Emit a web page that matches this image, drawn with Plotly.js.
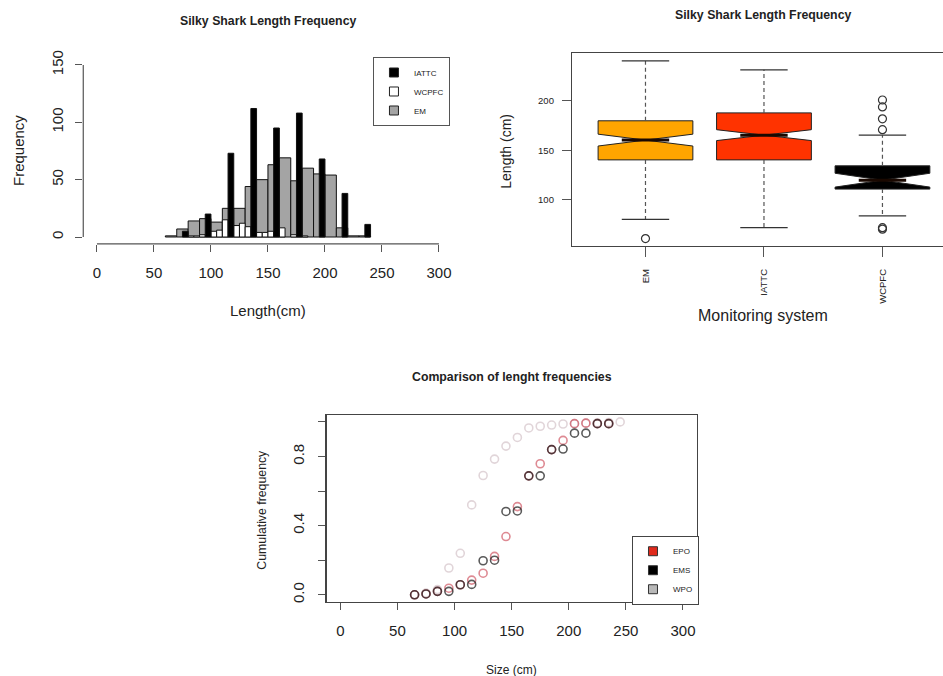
<!DOCTYPE html>
<html><head><meta charset="utf-8">
<script src="https://cdn.plot.ly/plotly-3.0.1.min.js"></script>
<style>html,body{margin:0;padding:0;background:#fff}#chart{width:943px;height:676px}</style>
</head><body><div id="chart"></div>
<script>
// ---------- Histogram (lower bin edges, cm) ----------
const iattcBinStart = [75, 95, 115, 135, 155, 175, 195, 215, 235];
const iattcFreq     = [5, 20, 73, 112, 95, 108, 68, 38, 11];
const wcpfcBinStart = [80, 85, 90, 100, 105, 110, 120, 125, 130, 140, 145, 150, 160, 170, 180];
const wcpfcFreq     = [1, 1, 2, 5, 6, 15, 10, 12, 9, 4, 4, 5, 8, 2, 1];
const emBinStart    = [60, 70, 80, 90, 100, 110, 120, 130, 140, 150, 160, 170, 180, 190, 200, 210, 220, 230];
const emFreq        = [1, 7, 14, 16, 13, 25, 25, 44, 50, 63, 69, 49, 60, 55, 54, 8, 1, 1];
const histTicksX = [0, 50, 100, 150, 200, 250, 300];
const histTicksY = [0, 50, 100, 150];
const histSeriesNames = ['IATTC', 'WCPFC', 'EM'];

// ---------- Boxplot ----------
const boxCategories   = ['EM', 'IATTC', 'WCPFC'];
const boxLowerWhisker = [80.5, 72, 84];
const boxQ1           = [140.5, 140.5, 111];
const boxMedian       = [160.5, 165.5, 120];
const boxQ3           = [180, 188, 134.5];
const boxUpperWhisker = [240.5, 231.5, 165.5];
const boxNotchHalf    = [6, 5.5, 7];
const boxOutliers     = [[61], [], [201, 194, 182, 171, 72, 70.5]];
const boxTicksY = [100, 150, 200];

// ---------- Cumulative frequencies ----------
const sizeMid = [65, 75, 85, 95, 105, 115, 125, 135, 145, 155, 165, 175, 185, 195, 205, 215, 225, 235, 245];
const cumWPO = [0.0, 0.01, 0.03, 0.155, 0.24, 0.52, 0.69, 0.785, 0.86, 0.91, 0.965, 0.975, 0.982, 0.988, 0.99, 0.993, 0.995, 0.997, 1.0];
const cumEPO = [0.0, 0.005, 0.02, 0.038, 0.058, 0.085, 0.125, 0.222, 0.337, 0.51, 0.688, 0.758, 0.84, 0.893, 0.99, 0.993, 0.99, 0.99, null];
const cumEMS = [0.0, 0.005, 0.02, 0.02, 0.058, 0.06, 0.197, 0.2, 0.482, 0.485, 0.688, 0.688, 0.84, 0.843, 0.935, 0.935, 0.99, 0.99, null];
const cumTicksY = [0, 0.2, 0.4, 0.6, 0.8, 1.0];
const cumTickText = ['0.0', '', '0.4', '', '0.8', ''];

const FONT = 'Liberation Sans, Arial, Helvetica, sans-serif';
const TXT = '#222';
const traces = [];

// Histogram bars
function histBar(starts, freq, w, color) {
  return {type: 'bar', x: starts.map(s => s + w / 2), y: freq, width: w,
    marker: {color: color, line: {color: '#111', width: 1}},
    xaxis: 'x', yaxis: 'y', showlegend: false, hoverinfo: 'skip'};
}
traces.push(histBar(emBinStart, emFreq, 10, '#a4a4a4'));
traces.push(histBar(wcpfcBinStart, wcpfcFreq, 5, '#ffffff'));
traces.push(histBar(iattcBinStart, iattcFreq, 5, '#000000'));
// legend entries for histogram
const histLegendColors = ['#000000', '#ffffff', '#a4a4a4'];
histSeriesNames.forEach((n, i) => traces.push({type: 'scatter', mode: 'markers', x: [null], y: [null], name: n,
  marker: {symbol: 'square', size: 9, color: histLegendColors[i], line: {color: '#222', width: 1}},
  xaxis: 'x', yaxis: 'y', legend: 'legend'}));

// Boxplot
const boxFill = ['#FFA500', '#FF3300', '#000000'];
const boxPos = boxCategories.map((c, i) => i + 1);
const boxWidth = 0.8;
boxCategories.forEach((c, i) => {
  traces.push({type: 'box', name: c, x: [boxPos[i]], q1: [boxQ1[i]], median: [boxMedian[i]], q3: [boxQ3[i]],
    lowerfence: [boxQ1[i]], upperfence: [boxQ3[i]], notched: true, notchspan: [boxNotchHalf[i]], notchwidth: 0.5,
    width: boxWidth, whiskerwidth: 0, fillcolor: boxFill[i], line: {color: '#222', width: 1},
    boxpoints: false, xaxis: 'x2', yaxis: 'y2', showlegend: false, hoverinfo: 'skip'});
});
// whiskers (dashed) and staples
const wx = [], wy = [], sx = [], sy = [], mx = [], my = [], ox = [], oy = [];
boxCategories.forEach((c, i) => {
  const p = boxPos[i];
  wx.push(p, p, null, p, p, null);
  wy.push(boxQ3[i], boxUpperWhisker[i], null, boxQ1[i], boxLowerWhisker[i], null);
  const h = boxWidth / 4;
  sx.push(p - h, p + h, null, p - h, p + h, null);
  sy.push(boxUpperWhisker[i], boxUpperWhisker[i], null, boxLowerWhisker[i], boxLowerWhisker[i], null);
  mx.push(p - h, p + h, null);
  my.push(boxMedian[i], boxMedian[i], null);
  boxOutliers[i].forEach(v => { ox.push(p); oy.push(v); });
});
traces.push({type: 'scatter', mode: 'lines', x: wx, y: wy, line: {color: '#555', width: 1.2, dash: '4px,3px'},
  xaxis: 'x2', yaxis: 'y2', showlegend: false, hoverinfo: 'skip'});
traces.push({type: 'scatter', mode: 'lines', x: sx, y: sy, line: {color: '#333', width: 1.2},
  xaxis: 'x2', yaxis: 'y2', showlegend: false, hoverinfo: 'skip'});
traces.push({type: 'scatter', mode: 'lines', x: mx, y: my, line: {color: '#1a0800', width: 3},
  xaxis: 'x2', yaxis: 'y2', showlegend: false, hoverinfo: 'skip'});
traces.push({type: 'scatter', mode: 'markers', x: ox, y: oy,
  marker: {symbol: 'circle-open', size: 8, color: '#333', line: {width: 1.2}},
  xaxis: 'x2', yaxis: 'y2', showlegend: false, hoverinfo: 'skip'});

// Cumulative scatter
function cumTrace(y, color) {
  return {type: 'scatter', mode: 'markers', x: sizeMid, y: y,
    marker: {symbol: 'circle-open', size: 8, color: color, line: {width: 1.6}},
    xaxis: 'x3', yaxis: 'y3', showlegend: false, hoverinfo: 'skip'};
}
traces.push(cumTrace(cumWPO, 'rgba(205,185,192,0.6)'));
traces.push(cumTrace(cumEPO, 'rgba(200,60,75,0.6)'));
traces.push(cumTrace(cumEMS, 'rgba(20,20,20,0.7)'));
const cumNames = ['EPO', 'EMS', 'WPO'];
const cumLegendColors = ['#e02a1c', '#000000', '#b8b8b8'];
cumNames.forEach((n, i) => traces.push({type: 'scatter', mode: 'markers', x: [null], y: [null], name: n,
  marker: {symbol: 'square', size: 9, color: cumLegendColors[i], line: {color: '#333', width: 1}},
  xaxis: 'x3', yaxis: 'y3', legend: 'legend2'}));

const axBase = {showgrid: false, zeroline: false, ticks: 'outside', tickcolor: '#555', tickwidth: 1,
  tickfont: {family: FONT, size: 15, color: TXT}, fixedrange: true};

function ann(text, x, y, size, angle) {
  return {text: text, x: x, y: y, xref: 'paper', yref: 'paper', xanchor: 'center', yanchor: 'middle',
    showarrow: false, textangle: angle || 0, font: {family: FONT, size: size, color: TXT}};
}

const layout = {
  width: 943, height: 676, margin: {l: 0, r: 0, t: 0, b: 0},
  paper_bgcolor: '#fff', plot_bgcolor: 'rgba(0,0,0,0)',
  font: {family: FONT, color: TXT}, barmode: 'overlay', bargap: 0,
  xaxis: Object.assign({}, axBase, {domain: [0.0883, 0.480], range: [-12, 312], anchor: 'y',
    tickmode: 'array', tickvals: histTicksX, ticklen: 7, showline: false, ticklabelstandoff: 8}),
  yaxis: Object.assign({}, axBase, {domain: [0.6392, 0.9142], range: [-6, 156], anchor: 'x',
    tickmode: 'array', tickvals: histTicksY, tickangle: -90, ticklen: 7, showline: false, ticklabelstandoff: 6}),
  xaxis2: Object.assign({}, axBase, {domain: [0.6066, 1.0], range: [0.38, 3.511], anchor: 'y2',
    tickmode: 'array', tickvals: boxPos, ticktext: boxCategories, tickangle: -90, ticklen: 10,
    showline: true, mirror: true, linecolor: '#444', linewidth: 1.2, tickfont: {family: FONT, size: 9.5, color: TXT}, ticklabelstandoff: 8}),
  yaxis2: Object.assign({}, axBase, {domain: [0.6361, 0.9216], range: [53.5, 248.5], anchor: 'x2',
    tickmode: 'array', tickvals: boxTicksY, ticklen: 9, showline: true, mirror: false, linecolor: '#444', linewidth: 1.2,
    tickfont: {family: FONT, size: 9.5, color: TXT}, ticklabelstandoff: 6}),
  xaxis3: Object.assign({}, axBase, {domain: [0.3464, 0.7388], range: [-12, 312], anchor: 'y3',
    tickmode: 'array', tickvals: histTicksX, ticklen: 7, showline: true, mirror: true, linecolor: '#444', linewidth: 1.2, ticklabelstandoff: 8}),
  yaxis3: Object.assign({}, axBase, {domain: [0.1099, 0.3861], range: [-0.04, 1.04], anchor: 'x3',
    tickmode: 'array', tickvals: cumTicksY, ticktext: cumTickText, tickangle: -90, ticklen: 7,
    showline: true, mirror: true, linecolor: '#444', linewidth: 1.2, ticklabelstandoff: 8}),
  legend: {x: 0.3955, y: 0.9157, xanchor: 'left', yanchor: 'top', bgcolor: '#fff', bordercolor: '#555', borderwidth: 1,
    font: {family: FONT, size: 8, color: TXT}},
  legend2: {x: 0.6702, y: 0.2075, xanchor: 'left', yanchor: 'top', bgcolor: '#fff', bordercolor: '#444', borderwidth: 1,
    font: {family: FONT, size: 8, color: TXT}},
  shapes: [
    {type: 'line', xref: 'x', yref: 'y domain', x0: histTicksX[0], x1: histTicksX[histTicksX.length - 1], y0: 0, y1: 0, line: {color: '#555', width: 1.2}},
    {type: 'line', xref: 'x domain', yref: 'y', x0: 0, x1: 0, y0: histTicksY[0], y1: histTicksY[histTicksY.length - 1], line: {color: '#555', width: 1.2}}
  ],
  annotations: [
    ann('<b>Silky Shark Length Frequency</b>', 0.2842, 0.9694, 12.3),
    ann('Frequency', 0.0191, 0.7766, 15, -90),
    ann('Length(cm)', 0.2847, 0.5414, 15),
    ann('<b>Silky Shark Length Frequency</b>', 0.8091, 0.9778, 12.3),
    ann('Length (cm)', 0.5366, 0.7756, 14, -90),
    ann('Monitoring system', 0.8091, 0.534, 16),
    ann('<b>Comparison of lenght frequencies</b>', 0.5426, 0.4423, 12.3),
    ann('Cumulative frequency', 0.2775, 0.2456, 12.3, -90),
    ann('Size (cm)', 0.5426, 0.0089, 12)
  ]
};

Plotly.newPlot('chart', traces, layout, {displayModeBar: false, staticPlot: true});
</script></body></html>
